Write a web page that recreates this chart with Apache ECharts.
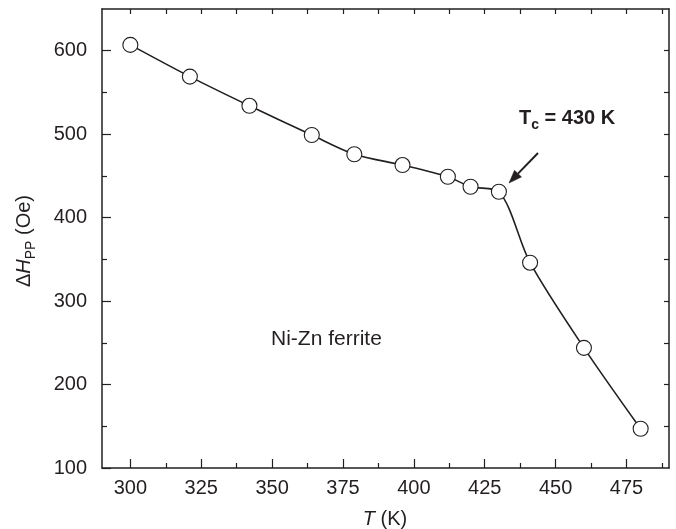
<!DOCTYPE html>
<html>
<head>
<meta charset="utf-8">
<script src="https://cdn.jsdelivr.net/npm/echarts@6/dist/echarts.min.js"></script>
<style>
html,body{margin:0;padding:0;background:#fff;}
#chart{width:676px;height:529px;}
</style>
</head>
<body>
<div id="chart"></div>
<script>
// Data
const temperatures = [300, 321, 342, 364, 379, 396, 412, 420, 430, 441, 460, 480];
const deltaHpp = [607, 569, 534, 499, 476, 463, 449, 437, 431, 346, 244, 147];
const xMajorTicks = [300, 325, 350, 375, 400, 425, 450, 475];
const xMinorTicks = [312.5, 337.5, 362.5, 387.5, 412.5, 437.5, 462.5, 487.5];
const yMajorTicks = [100, 200, 300, 400, 500, 600];
const yMinorTicks = [150, 250, 350, 450, 550];

const FONT = 'Liberation Sans, Arial, Helvetica, sans-serif';
const INK = '#231f20';

const chart = echarts.init(document.getElementById('chart'), null, {renderer: 'canvas'});

const allX = xMajorTicks.concat(xMinorTicks).sort((a, b) => a - b);
const allY = yMajorTicks.concat(yMinorTicks).sort((a, b) => a - b);

function xAx(position, ticks, len, showLine, showLabel) {
  return {
    type: 'value', position: position, min: 290, max: 490,
    axisLine: {show: showLine, onZero: false, lineStyle: {color: INK, width: 1.5}},
    axisTick: {show: true, inside: true, length: len, customValues: ticks, lineStyle: {color: INK, width: 1.2}},
    axisLabel: {show: showLabel, customValues: ticks, margin: 10, color: INK, fontSize: 20, fontFamily: FONT},
    splitLine: {show: false}
  };
}
function yAx(position, ticks, len, showLine, showLabel) {
  return {
    type: 'value', position: position, min: 100, max: 650,
    axisLine: {show: showLine, onZero: false, lineStyle: {color: INK, width: 1.5}},
    axisTick: {show: true, inside: true, length: len, customValues: ticks, lineStyle: {color: INK, width: 1.2}},
    axisLabel: {show: showLabel, customValues: ticks, margin: 15, color: INK, fontSize: 20, fontFamily: FONT},
    splitLine: {show: false}
  };
}

const option = {
  backgroundColor: '#fff',
  animation: false,
  grid: {left: 102, right: 7, top: 9, bottom: 61, containLabel: false},
  xAxis: [
    xAx('bottom', xMajorTicks, 9, true, true),
    xAx('bottom', xMinorTicks, 5, false, false),
    xAx('top', allX, 5, true, false)
  ],
  yAxis: [
    yAx('left', yMajorTicks, 9, true, true),
    yAx('left', yMinorTicks, 5, false, false),
    yAx('right', allY.filter(v => v > 100), 5, true, false)
  ],
  series: [{
    type: 'line',
    xAxisIndex: 0, yAxisIndex: 0,
    data: temperatures.map((t, i) => [t, deltaHpp[i]]),
    smooth: 0.3,
    symbol: 'circle',
    symbolSize: 15,
    lineStyle: {color: INK, width: 1.6},
    itemStyle: {color: '#fff', borderColor: INK, borderWidth: 1.1}
  }],
  graphic: [
    {
      type: 'text', left: 271, top: 329,
      style: {text: 'Ni-Zn ferrite', fill: INK, font: '21px ' + FONT}
    },
    {
      type: 'text', x: 519, y: 118,
      style: {
        text: '{m|T}{s|c}{m| = 430 K}',
        verticalAlign: 'middle',
        rich: {
          m: {fontSize: 20, fontWeight: 'bold', fontFamily: FONT, fill: INK, lineHeight: 28, verticalAlign: 'middle'},
          s: {fontSize: 14, fontWeight: 'bold', fontFamily: FONT, fill: INK, lineHeight: 28, verticalAlign: 'bottom'}
        }
      }
    },
    {
      type: 'line',
      shape: {x1: 538, y1: 153, x2: 518, y2: 173.6},
      style: {stroke: INK, lineWidth: 2}
    },
    {
      type: 'polygon',
      shape: {points: [[509, 183], [521.5, 176.9], [514.5, 170.3]]},
      style: {fill: INK, stroke: INK, lineWidth: 0.5}
    },
    {
      type: 'text', x: 385, y: 519,
      style: {
        text: '{i|T}{n| (K)}',
        align: 'center', verticalAlign: 'middle',
        rich: {
          i: {fontSize: 20, fontStyle: 'italic', fontFamily: FONT, fill: INK, lineHeight: 24},
          n: {fontSize: 20, fontFamily: FONT, fill: INK, lineHeight: 24}
        }
      }
    },
    {
      type: 'text', x: 24, y: 241, rotation: Math.PI / 2,
      style: {
        text: '{n|Δ}{i|H}{s|PP}{n| (Oe)}',
        align: 'center', verticalAlign: 'middle',
        rich: {
          n: {fontSize: 20, fontFamily: FONT, fill: INK, lineHeight: 28, verticalAlign: 'middle'},
          i: {fontSize: 20, fontStyle: 'italic', fontFamily: FONT, fill: INK, lineHeight: 28, verticalAlign: 'middle'},
          s: {fontSize: 14, fontFamily: FONT, fill: INK, lineHeight: 28, verticalAlign: 'bottom'}
        }
      }
    }
  ]
};
chart.setOption(option);
</script>
</body>
</html>
